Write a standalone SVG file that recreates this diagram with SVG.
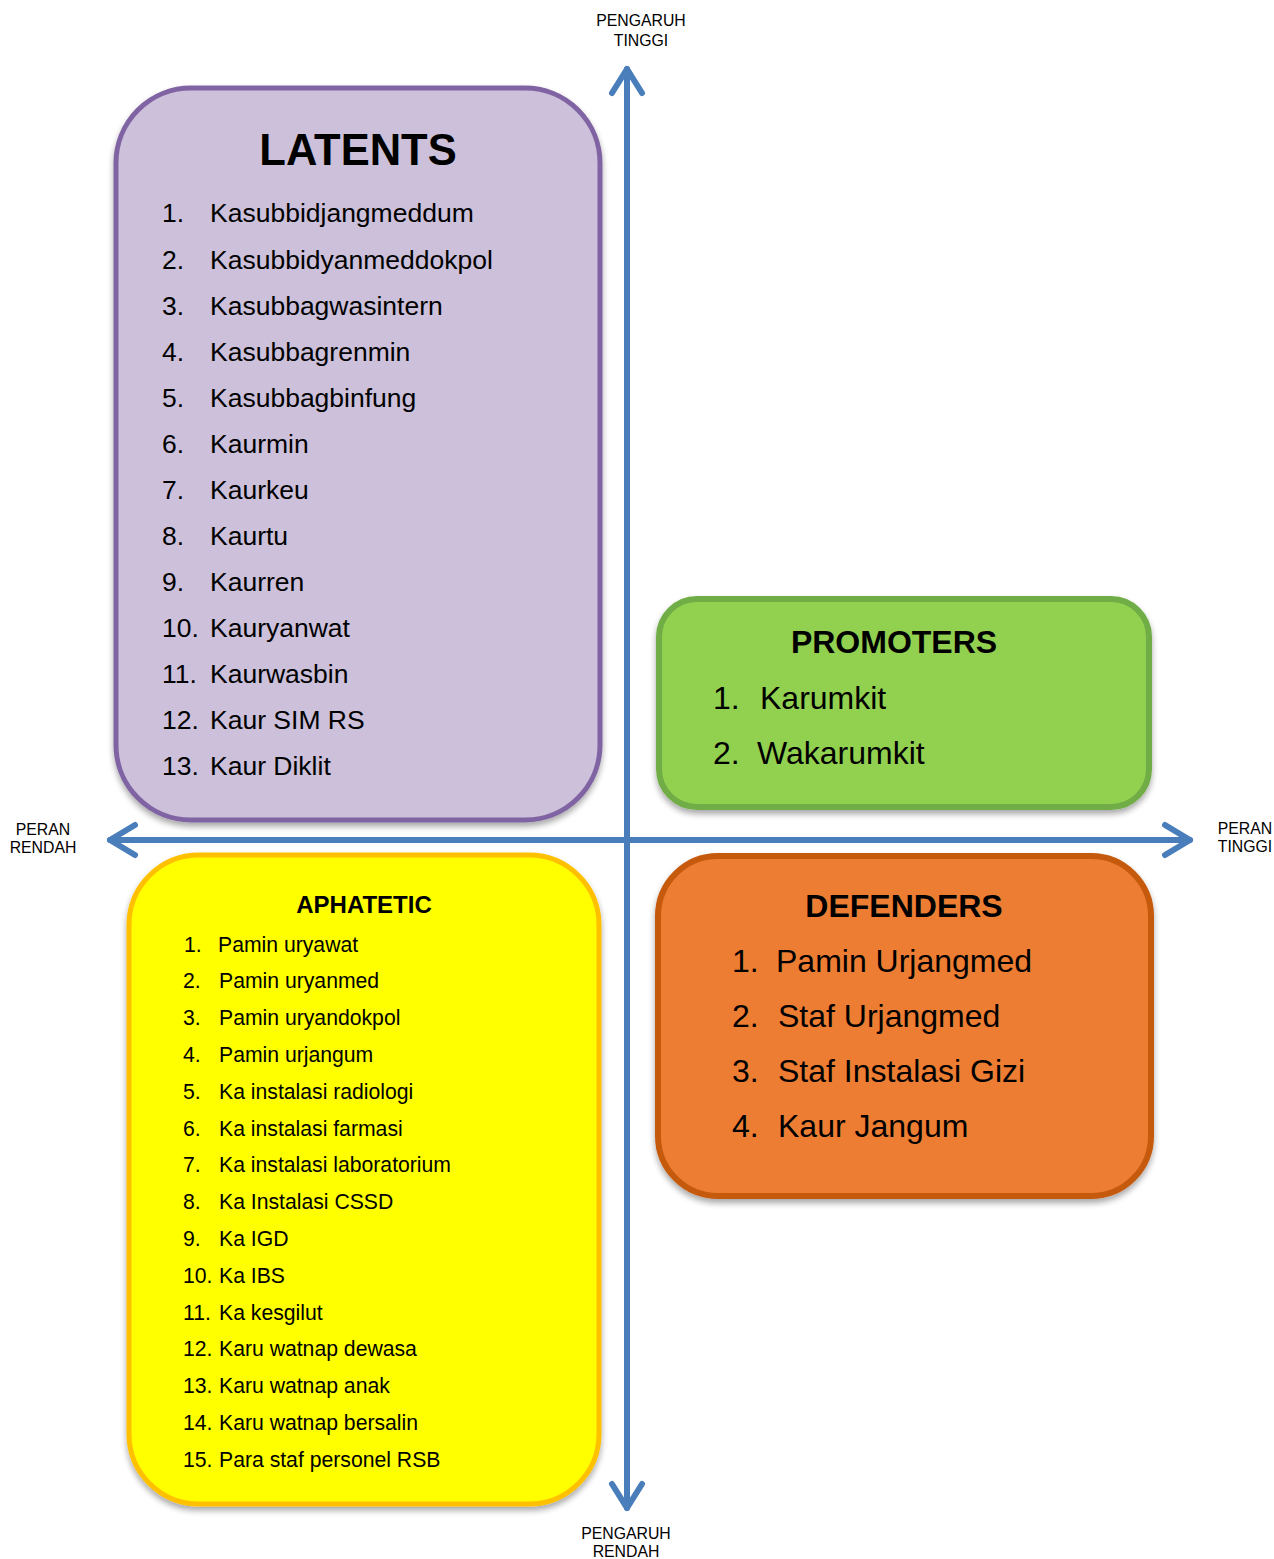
<svg xmlns="http://www.w3.org/2000/svg" width="1274" height="1559" viewBox="0 0 1274 1559">
  <defs>
    <filter id="shadow" x="-10%" y="-10%" width="120%" height="120%">
      <feGaussianBlur in="SourceAlpha" stdDeviation="3"/>
      <feOffset dx="0" dy="4" result="b"/>
      <feComponentTransfer><feFuncA type="linear" slope="0.35"/></feComponentTransfer>
      <feMerge><feMergeNode/><feMergeNode in="SourceGraphic"/></feMerge>
    </filter>
  </defs>
  <style>
    text { font-family: "Liberation Sans", Arial, sans-serif; fill: #000; }
    .axis { fill: none; stroke: #4A7EBB; stroke-width: 6; stroke-linecap: round; stroke-linejoin: round; }
    .lbl { font-size: 15.8px; text-anchor: middle; }
    .title { font-weight: bold; text-anchor: middle; }
    .lat { font-size: 26.5px; }
    .pro { font-size: 32px; }
    .def { font-size: 32px; }
    .aph { font-size: 21.2px; }
  </style>

  <rect width="1274" height="1559" fill="#fff"/>

  <!-- LATENTS -->
  <g id="latents">
    <rect x="116" y="88" width="484" height="732" rx="75" ry="75" fill="#CCC0DA" stroke="#8064A2" stroke-width="5" filter="url(#shadow)"/>
    <text class="title" x="358" y="165" font-size="43.5">LATENTS</text>
    <g class="lat">
      <text x="162" y="222">1.</text><text x="210" y="222">Kasubbidjangmeddum</text>
      <text x="162" y="269">2.</text><text x="210" y="269">Kasubbidyanmeddokpol</text>
      <text x="162" y="315">3.</text><text x="210" y="315">Kasubbagwasintern</text>
      <text x="162" y="361">4.</text><text x="210" y="361">Kasubbagrenmin</text>
      <text x="162" y="407">5.</text><text x="210" y="407">Kasubbagbinfung</text>
      <text x="162" y="453">6.</text><text x="210" y="453">Kaurmin</text>
      <text x="162" y="499">7.</text><text x="210" y="499">Kaurkeu</text>
      <text x="162" y="545">8.</text><text x="210" y="545">Kaurtu</text>
      <text x="162" y="591">9.</text><text x="210" y="591">Kaurren</text>
      <text x="162" y="637">10.</text><text x="210" y="637">Kauryanwat</text>
      <text x="162" y="683">11.</text><text x="210" y="683">Kaurwasbin</text>
      <text x="162" y="729">12.</text><text x="210" y="729">Kaur SIM RS</text>
      <text x="162" y="775">13.</text><text x="210" y="775">Kaur Diklit</text>
    </g>
  </g>

  <!-- PROMOTERS -->
  <g id="promoters">
    <rect x="659" y="599" width="490" height="208" rx="38" ry="38" fill="#92D050" stroke="#71AD47" stroke-width="6" filter="url(#shadow)"/>
    <text class="title" x="894" y="653" font-size="32">PROMOTERS</text>
    <g class="pro">
      <text x="713" y="709">1.</text><text x="760" y="709">Karumkit</text>
      <text x="713" y="764">2.</text><text x="757" y="764">Wakarumkit</text>
    </g>
  </g>

  <!-- DEFENDERS -->
  <g id="defenders">
    <rect x="658" y="856" width="493" height="340" rx="60" ry="60" fill="#ED7D31" stroke="#C55A11" stroke-width="6" filter="url(#shadow)"/>
    <text class="title" x="904" y="917" font-size="32">DEFENDERS</text>
    <g class="def">
      <text x="732" y="972">1.</text><text x="776" y="972">Pamin Urjangmed</text>
      <text x="732" y="1027">2.</text><text x="778" y="1027">Staf Urjangmed</text>
      <text x="732" y="1082">3.</text><text x="778" y="1082">Staf Instalasi Gizi</text>
      <text x="732" y="1137">4.</text><text x="778" y="1137">Kaur Jangum</text>
    </g>
  </g>

  <!-- APHATETIC -->
  <g id="aphatetic">
    <rect x="129" y="855" width="470" height="649" rx="70" ry="70" fill="#FFFF00" stroke="#FFC000" stroke-width="5" filter="url(#shadow)"/>
    <text class="title" x="364" y="913" font-size="24">APHATETIC</text>
    <g class="aph">
      <text x="184" y="952">1.</text><text x="218" y="952">Pamin uryawat</text>
      <text x="183" y="988">2.</text><text x="219" y="988">Pamin uryanmed</text>
      <text x="183" y="1025">3.</text><text x="219" y="1025">Pamin uryandokpol</text>
      <text x="183" y="1062">4.</text><text x="219" y="1062">Pamin urjangum</text>
      <text x="183" y="1099">5.</text><text x="219" y="1099">Ka instalasi radiologi</text>
      <text x="183" y="1136">6.</text><text x="219" y="1136">Ka instalasi farmasi</text>
      <text x="183" y="1172">7.</text><text x="219" y="1172">Ka instalasi laboratorium</text>
      <text x="183" y="1209">8.</text><text x="219" y="1209">Ka Instalasi CSSD</text>
      <text x="183" y="1246">9.</text><text x="219" y="1246">Ka IGD</text>
      <text x="183" y="1283">10.</text><text x="219" y="1283">Ka IBS</text>
      <text x="183" y="1320">11.</text><text x="219" y="1320">Ka kesgilut</text>
      <text x="183" y="1356">12.</text><text x="219" y="1356">Karu watnap dewasa</text>
      <text x="183" y="1393">13.</text><text x="219" y="1393">Karu watnap anak</text>
      <text x="183" y="1430">14.</text><text x="219" y="1430">Karu watnap bersalin</text>
      <text x="183" y="1467">15.</text><text x="219" y="1467">Para staf personel RSB</text>
    </g>
  </g>

  <!-- Axes -->
  <g id="connectors">
    <line class="axis" x1="627" y1="69" x2="627" y2="1508"/>
    <polyline class="axis" points="612,93 627,69 642,93"/>
    <polyline class="axis" points="612,1484 627,1508 642,1484"/>
    <line class="axis" x1="110" y1="840" x2="1190" y2="840"/>
    <polyline class="axis" points="135,825 110,840 135,855"/>
    <polyline class="axis" points="1165,825 1190,840 1165,855"/>
  </g>

  <!-- Axis labels -->
  <g id="axis-labels" class="lbl">
    <text x="641" y="26">PENGARUH</text>
    <text x="641" y="46">TINGGI</text>
    <text x="43" y="835">PERAN</text>
    <text x="43" y="853">RENDAH</text>
    <text x="1245" y="834">PERAN</text>
    <text x="1245" y="852">TINGGI</text>
    <text x="626" y="1539">PENGARUH</text>
    <text x="626" y="1557">RENDAH</text>
  </g>
</svg>
